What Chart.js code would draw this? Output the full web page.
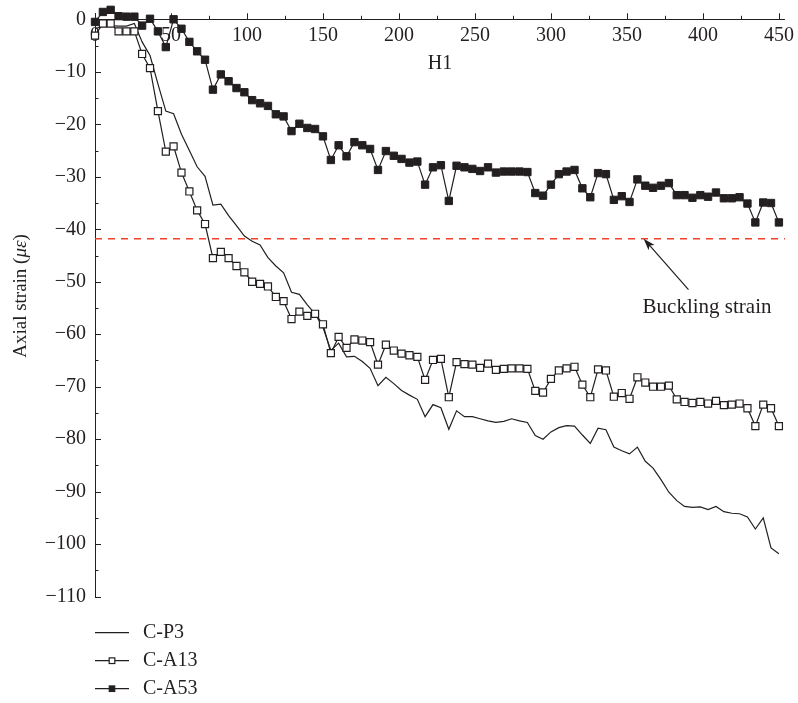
<!DOCTYPE html>
<html>
<head>
<meta charset="utf-8">
<title>Axial strain</title>
<script src="https://cdn.jsdelivr.net/npm/chart.js@4.4.1/dist/chart.umd.min.js"></script>
<style>
  html, body { margin: 0; padding: 0; background: #fff; }
</style>
</head>
<body>
<canvas id="strainChart" width="798" height="703"></canvas>
<script>
// H1 positions of the readings
const h1Positions = [
  0, 5.2, 10.3, 15.5, 20.7, 25.9, 31.0, 36.2, 41.4, 46.6,
  51.7, 56.9, 62.1, 67.2, 72.4, 77.6, 82.8, 87.9, 93.1, 98.3,
  103.4, 108.6, 113.8, 119.0, 124.1, 129.3, 134.5, 139.7, 144.8, 150.0,
  155.2, 160.3, 165.5, 170.7, 175.9, 181.0, 186.2, 191.4, 196.6, 201.7,
  206.9, 212.1, 217.2, 222.4, 227.6, 232.8, 237.9, 243.1, 248.3, 253.4,
  258.6, 263.8, 269.0, 274.1, 279.3, 284.5, 289.7, 294.8, 300.0, 305.2,
  310.3, 315.5, 320.7, 325.9, 331.0, 336.2, 341.4, 346.6, 351.7, 356.9,
  362.1, 367.2, 372.4, 377.6, 382.8, 387.9, 393.1, 398.3, 403.4, 408.6,
  413.8, 419.0, 424.1, 429.3, 434.5, 439.7, 444.8, 450.0
];

const cP3 = [
  -1.8, -1.3, -1.2, -1.3, -1.3, -0.8, -4.3, -6.9, -12.3, -17.5,
  -18.0, -21.9, -25.0, -28.1, -29.9, -35.4, -35.2, -37.4, -39.3, -41.3,
  -42.3, -43.0, -45.4, -47.0, -48.3, -52.0, -52.4, -54.4, -56.1, -58.7,
  -63.1, -61.7, -64.3, -64.2, -65.2, -66.5, -69.8, -68.2, -69.4, -70.7,
  -71.6, -72.4, -75.7, -73.4, -74.0, -78.1, -74.6, -75.7, -75.7, -76.1,
  -76.5, -76.8, -76.6, -76.1, -76.5, -76.8, -79.3, -80.0, -78.6, -77.8,
  -77.4, -77.5, -79.2, -80.8, -77.9, -78.2, -81.5, -82.2, -82.8, -81.5,
  -84.2, -85.5, -87.7, -90.1, -91.7, -92.8, -93.0, -92.9, -93.4, -92.8,
  -93.8, -94.1, -94.2, -94.8, -97.1, -95.0, -100.7, -101.8
];

const cA13 = [
  -3.1, -0.8, -0.8, -2.3, -2.3, -2.3, -6.6, -9.3, -17.5, -25.2,
  -24.2, -29.2, -32.8, -36.4, -39.0, -45.5, -44.3, -45.5, -47.0, -48.2,
  -50.0, -50.4, -50.9, -52.9, -53.7, -57.1, -55.7, -56.5, -56.1, -58.1,
  -63.6, -60.5, -62.6, -61.0, -61.2, -61.5, -65.8, -62.0, -63.1, -63.7,
  -64.0, -64.3, -68.7, -64.9, -64.7, -72.0, -65.3, -65.7, -65.8, -66.4,
  -65.6, -66.8, -66.6, -66.5, -66.5, -66.6, -70.8, -71.1, -68.5, -66.9,
  -66.5, -66.2, -69.6, -72.0, -66.7, -66.9, -71.9, -71.2, -72.3, -68.2,
  -69.2, -70.0, -70.0, -69.8, -72.4, -72.9, -73.1, -72.9, -73.2, -72.7,
  -73.5, -73.4, -73.2, -74.1, -77.5, -73.4, -74.1, -77.5
];

const cA53 = [
  -0.5, 1.4, 1.8, 0.6, 0.5, 0.5, -1.2, 0.1, -2.3, -5.3,
  0.0, -1.8, -4.3, -6.1, -7.7, -13.4, -10.5, -11.8, -13.1, -13.9,
  -15.4, -16.0, -16.5, -18.1, -18.5, -21.3, -19.9, -20.7, -20.9, -22.3,
  -26.8, -24.0, -26.1, -23.4, -24.0, -24.7, -28.7, -25.1, -26.0, -26.6,
  -27.3, -27.1, -31.5, -28.2, -27.8, -34.6, -27.9, -28.2, -28.5, -28.9,
  -28.2, -29.2, -29.0, -29.0, -29.0, -29.1, -33.1, -33.6, -31.5, -29.5,
  -29.0, -28.7, -32.2, -33.9, -29.3, -29.5, -34.4, -33.7, -34.8, -30.5,
  -31.7, -32.1, -31.7, -31.2, -33.5, -33.5, -34.0, -33.5, -33.8, -33.0,
  -34.1, -34.1, -33.9, -35.1, -38.7, -34.9, -35.0, -38.7
];

const bucklingStrain = -41.8;

const xTickValues = [0, 50, 100, 150, 200, 250, 300, 350, 400, 450];
const xMinorTicks = [25, 75, 125, 175, 225, 275, 325, 375, 425];
const yTickValues = [-110, -100, -90, -80, -70, -60, -50, -40, -30, -20, -10, 0];
const yMinorTicks = [-105, -95, -85, -75, -65, -55, -45, -35, -25, -15, -5];

// annotation anchors, in data units
const arrowHead = { x: 361, y: -41.8 };
const arrowTail = { x: 390.5, y: -51.5 };
const bucklingLabelAt = { x: 360.3, y: -55.9 };

const ink = '#231f20';
const dashRed = '#f2402a';
const serif = '"Liberation Serif", "DejaVu Serif", serif';

Chart.defaults.font.family = serif;
Chart.defaults.color = ink;

const toPoints = (ys) => ys.map((y, i) => ({ x: h1Positions[i], y: y }));

// ticks, axis titles, arrow and legend drawn on top of the chart.js scales
const strainDecor = {
  id: 'strainDecor',
  afterDraw(chart) {
    const ctx = chart.ctx;
    const xs = chart.scales.x;
    const ys = chart.scales.y;
    const area = chart.chartArea;
    const axisY = ys.getPixelForValue(0);

    ctx.save();
    ctx.strokeStyle = ink;
    ctx.lineWidth = 1;
    ctx.beginPath();
    xTickValues.concat(xMinorTicks).forEach(v => {
      const px = Math.round(xs.getPixelForValue(v)) + 0.5;
      const len = xTickValues.includes(v) ? 6 : 3.5;
      ctx.moveTo(px, axisY);
      ctx.lineTo(px, axisY - len);
    });
    yTickValues.concat(yMinorTicks).forEach(v => {
      const py = Math.round(ys.getPixelForValue(v)) + 0.5;
      const len = yTickValues.includes(v) ? 6 : 3.5;
      ctx.moveTo(area.left, py);
      ctx.lineTo(area.left + len, py);
    });
    ctx.stroke();

    // x axis title sits under the tick labels
    ctx.fillStyle = ink;
    ctx.font = '20px ' + serif;
    ctx.textAlign = 'center';
    ctx.textBaseline = 'middle';
    ctx.fillText('H1', (area.left + area.right) / 2, axisY + 44);

    // y axis title with italic unit
    const parts = [['Axial strain (', ''], ['\u03bc\u03b5', 'italic '], [')', '']];
    ctx.save();
    ctx.translate(26, 296);
    ctx.rotate(-Math.PI / 2);
    ctx.textAlign = 'left';
    ctx.textBaseline = 'alphabetic';
    let total = 0;
    parts.forEach(p => { ctx.font = p[1] + '19px ' + serif; total += ctx.measureText(p[0]).width; });
    let cx = -total / 2;
    parts.forEach(p => {
      ctx.font = p[1] + '19px ' + serif;
      ctx.fillText(p[0], cx, 0);
      cx += ctx.measureText(p[0]).width;
    });
    ctx.restore();

    // arrow to the buckling line
    const hx = xs.getPixelForValue(arrowHead.x), hy = ys.getPixelForValue(arrowHead.y);
    const tx = xs.getPixelForValue(arrowTail.x), ty = ys.getPixelForValue(arrowTail.y);
    const ang = Math.atan2(hy - ty, hx - tx);
    ctx.lineWidth = 1.2;
    ctx.beginPath();
    ctx.moveTo(tx, ty);
    ctx.lineTo(hx - 6 * Math.cos(ang), hy - 6 * Math.sin(ang));
    ctx.stroke();
    ctx.beginPath();
    ctx.moveTo(hx, hy);
    ctx.lineTo(hx - 12 * Math.cos(ang) + 4 * Math.sin(ang), hy - 12 * Math.sin(ang) - 4 * Math.cos(ang));
    ctx.lineTo(hx - 9 * Math.cos(ang), hy - 9 * Math.sin(ang));
    ctx.lineTo(hx - 12 * Math.cos(ang) - 4 * Math.sin(ang), hy - 12 * Math.sin(ang) + 4 * Math.cos(ang));
    ctx.closePath();
    ctx.fill();

    ctx.font = '21px ' + serif;
    ctx.textAlign = 'left';
    ctx.textBaseline = 'alphabetic';
    ctx.fillText('Buckling strain', xs.getPixelForValue(bucklingLabelAt.x), ys.getPixelForValue(bucklingLabelAt.y));

    // legend, stacked under the plot
    const rowY = area.bottom + 36;
    chart.data.datasets.slice(0, 3).forEach((ds, i) => {
      const y = rowY + i * 28;
      ctx.strokeStyle = ds.borderColor;
      ctx.lineWidth = ds.borderWidth;
      ctx.beginPath();
      ctx.moveTo(area.left, y);
      ctx.lineTo(area.left + 34, y);
      ctx.stroke();
      if (ds.pointRadius > 0) {
        const s = 4 * Math.SQRT1_2;
        ctx.fillStyle = ds.pointBackgroundColor;
        ctx.strokeStyle = ds.pointBorderColor;
        ctx.lineWidth = ds.pointBorderWidth;
        ctx.fillRect(area.left + 17 - s, y - s, 2 * s, 2 * s);
        ctx.strokeRect(area.left + 17 - s, y - s, 2 * s, 2 * s);
      }
      ctx.fillStyle = ink;
      ctx.font = '20px ' + serif;
      ctx.textBaseline = 'middle';
      ctx.fillText(ds.label, area.left + 48, y);
    });
    ctx.restore();
  }
};

new Chart(document.getElementById('strainChart'), {
  type: 'line',
  data: {
    datasets: [
      {
        label: 'C-P3', data: toPoints(cP3),
        borderColor: ink, borderWidth: 1.2, pointRadius: 0,
        clip: false, order: 3
      },
      {
        label: 'C-A13', data: toPoints(cA13),
        borderColor: ink, borderWidth: 1.2,
        pointStyle: 'rect', pointRadius: 5,
        pointBackgroundColor: '#ffffff', pointBorderColor: ink, pointBorderWidth: 1.2,
        clip: false, order: 2
      },
      {
        label: 'C-A53', data: toPoints(cA53),
        borderColor: ink, borderWidth: 1.2,
        pointStyle: 'rect', pointRadius: 5.2,
        pointBackgroundColor: ink, pointBorderColor: ink, pointBorderWidth: 1,
        clip: false, order: 1
      },
      {
        label: 'Buckling strain',
        data: [{ x: 0, y: bucklingStrain }, { x: 454, y: bucklingStrain }],
        borderColor: dashRed, borderWidth: 1.5, borderDash: [7, 6],
        pointRadius: 0, order: 4
      }
    ]
  },
  options: {
    responsive: false,
    animation: false,
    layout: { padding: { top: 13.26, right: 11, bottom: 106.3, left: 0 } },
    plugins: { legend: { display: false }, tooltip: { enabled: false } },
    scales: {
      x: {
        type: 'linear', position: { y: 0 }, min: 0, max: 454,
        afterBuildTicks: s => { s.ticks = xTickValues.map(v => ({ value: v })); },
        grid: { drawOnChartArea: false, drawTicks: false },
        border: { color: ink, width: 1 },
        ticks: { padding: 4, autoSkip: false, maxRotation: 0, font: { size: 20 }, color: ink }
      },
      y: {
        type: 'linear', position: 'left', min: -110, max: 1.15,
        afterBuildTicks: s => { s.ticks = yTickValues.map(v => ({ value: v })); },
        afterFit: s => { s.width = 95; s.paddingTop = 0; s.paddingBottom = 0; },
        grid: { drawOnChartArea: false, drawTicks: false },
        border: { color: ink, width: 1 },
        ticks: {
          padding: 9, autoSkip: false, font: { size: 20 }, color: ink,
          callback: v => String(v).replace('-', '\u2212')
        }
      }
    }
  },
  plugins: [strainDecor]
});
</script>
</body>
</html>
